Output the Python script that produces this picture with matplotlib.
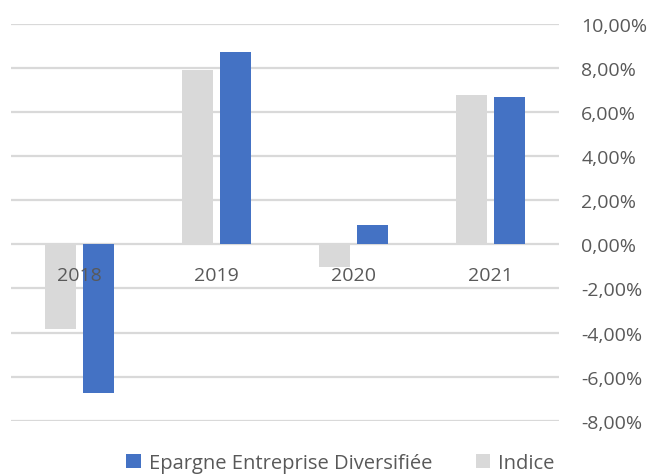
import numpy as np
import matplotlib.pyplot as plt
from matplotlib.ticker import FuncFormatter

plt.rcParams['font.family'] = ['Open Sans', 'DejaVu Sans']

# Data (returns in %)
years = ['2018', '2019', '2020', '2021']
epargne = [-6.75, 8.72, 0.86, 6.67]
indice = [-3.85, 7.93, -1.02, 6.80]

blue = '#4472C4'
grey = '#D9D9D9'
text_col = '#595959'

fig = plt.figure(figsize=(6.55, 4.77), dpi=100)
ax = fig.add_axes([11 / 655, 1 - 421.7 / 477, 548 / 655, (421.7 - 25) / 477])

x = np.arange(len(years))
w = 0.226
off = 0.142
b_ind = ax.bar(x - off, indice, w, color=grey, zorder=2, label='Indice')
b_epa = ax.bar(x + off, epargne, w, color=blue, zorder=2,
               label='Epargne Entreprise Diversifiée')

ax.set_xlim(-0.5, 3.5)
ax.set_ylim(-8, 10)
ax.set_yticks(np.arange(-8, 11, 2))
ax.yaxis.set_major_formatter(FuncFormatter(lambda v, p: f'{v:.2f}%'.replace('.', ',')))
ax.yaxis.tick_right()
ax.tick_params(axis='y', length=0, pad=16, labelsize=14, labelcolor=text_col)
for lbl in ax.get_yticklabels():
    lbl.set_horizontalalignment('left')

ax.set_xticks([])
ax.set_axisbelow(True)
ax.yaxis.grid(True, color='#D9D9D9', linewidth=1.6)
for s in ax.spines.values():
    s.set_visible(False)

# category labels sit just under the zero line, on top of the bars
for i, yr in enumerate(years):
    ax.annotate(yr, xy=(i, 0), xytext=(0, -22), textcoords='offset points',
                ha='center', va='center', fontsize=14, color=text_col, zorder=5)

fig.legend(handles=[b_epa, b_ind], loc='center', bbox_to_anchor=(0.52, 0.027),
           ncol=2, frameon=False, fontsize=14.5, labelcolor=text_col,
           handlelength=0.7, handleheight=0.7, handletextpad=0.4, columnspacing=2.2)

fig.savefig('out.png', dpi=100)
